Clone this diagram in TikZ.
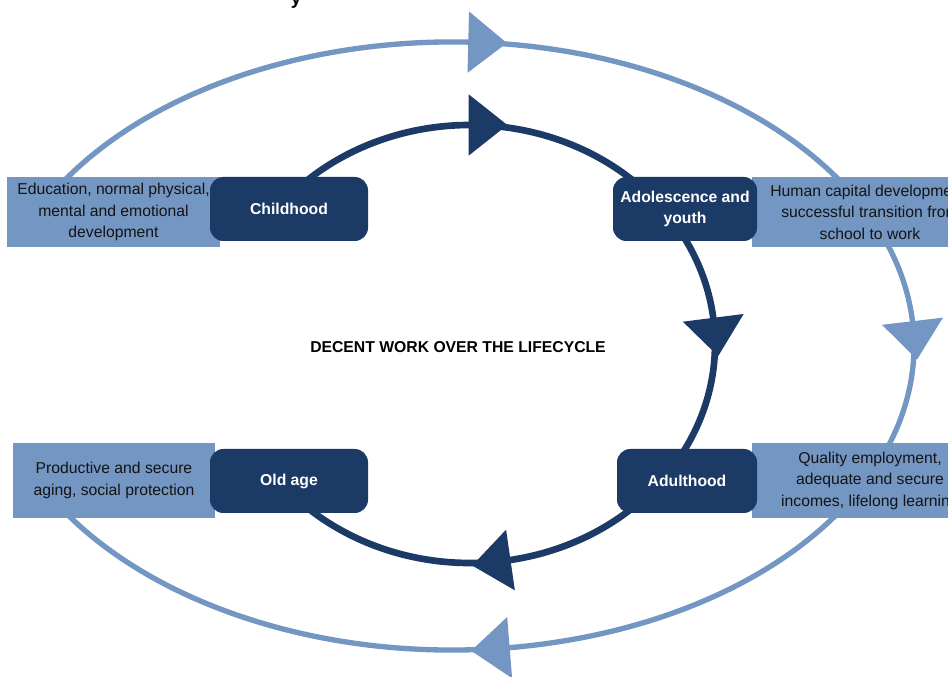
\documentclass[tikz,border=0pt]{standalone}
\usepackage{fontspec}
\setmainfont{Liberation Sans}
\usetikzlibrary{decorations.markings}

\definecolor{navy}{RGB}{27,58,102}
\definecolor{steel}{RGB}{115,150,194}
\definecolor{ink}{RGB}{20,20,20}

\tikzset{
  stagebox/.style={draw=none, fill=navy, rounded corners=10pt, text=white,
    font=\fontsize{11.8}{16.1}\selectfont\bfseries, align=center,
    minimum height=48pt, inner sep=2pt},
  goalbox/.style={draw=none, fill=steel, text=ink,
    font=\fontsize{11.8}{16.1}\selectfont, align=center, inner sep=2pt},
  innerline/.style={draw=navy, line width=5pt},
  outerline/.style={draw=steel, line width=4pt},
  midhead/.style 2 args={postaction={decorate}, decoration={markings,
    mark=at position #1 with {\fill[#2] (-1pt,-23pt) -- (28pt,0pt) -- (-1pt,23pt) -- cycle;}}},
}

\begin{document}
\begin{tikzpicture}[x=0.75pt, y=0.75pt]
  \useasboundingbox (0,0) rectangle (948,677);
  \clip (0,0) rectangle (948,677);

  % centres of the two cycles
  \coordinate (ic) at (470,333);
  \coordinate (oc) at (452,331);

  % outer cycle: outcomes
  \draw[outerline, midhead={0.52}{steel}] (oc) ++(150:346.5pt and 228pt)
    arc[start angle=150, end angle=30, x radius=346.5pt, y radius=228pt];
  \draw[outerline, midhead={0.43}{steel}] (oc) ++(30:346.5pt and 228pt)
    arc[start angle=30, end angle=-30, x radius=346.5pt, y radius=228pt];
  \draw[outerline, midhead={0.436}{steel}] (oc) ++(-30:346.5pt and 228pt)
    arc[start angle=-30, end angle=-150, x radius=346.5pt, y radius=228pt];

  % inner cycle: life stages
  \draw[innerline, midhead={0.5}{navy}] (ic) ++(140:183.75pt and 164.25pt)
    arc[start angle=140, end angle=40, x radius=183.75pt, y radius=164.25pt];
  \draw[innerline, midhead={0.42}{navy}] (ic) ++(40:183.75pt and 164.25pt)
    arc[start angle=40, end angle=-40, x radius=183.75pt, y radius=164.25pt];
  \draw[innerline, midhead={0.406}{navy}] (ic) ++(-40:183.75pt and 164.25pt)
    arc[start angle=-40, end angle=-140, x radius=183.75pt, y radius=164.25pt];

  % outcome boxes
  \node[goalbox, minimum width=159.75pt, minimum height=52.5pt] (edu) at (113.5,465)
    {Education, normal physical,\\mental and emotional\\development};
  \node[goalbox, minimum width=177pt, minimum height=52.5pt] (hum) at (870,465)
    {Human capital development,\\successful transition from\\school to work};
  \node[goalbox, minimum width=151.5pt, minimum height=56.25pt] (prod) at (114,196.5)
    {Productive and secure\\aging, social protection};
  \node[goalbox, minimum width=177pt, minimum height=56.25pt] (qual) at (870,196.5)
    {Quality employment,\\adequate and secure\\incomes, lifelong learning};

  % stage boxes
  \node[stagebox, minimum width=118.5pt] (child) at (289,468) {Childhood};
  \node[stagebox, minimum width=108pt] (adol) at (685,468) {Adolescence and\\youth};
  \node[stagebox, minimum width=118.5pt] (old) at (289,196) {Old age};
  \node[stagebox, minimum width=105pt] (adult) at (687,196) {Adulthood};

  % centre caption
  \node[font=\fontsize{11.8}{14}\selectfont\bfseries, text=black] (title) at (458,330)
    {DECENT WORK OVER THE LIFECYCLE};

  % tail of the heading line above
  \node[font=\fontsize{14}{16}\selectfont\bfseries, anchor=base, inner sep=0pt] (head) at (296,672) {y};
\end{tikzpicture}
\end{document}
